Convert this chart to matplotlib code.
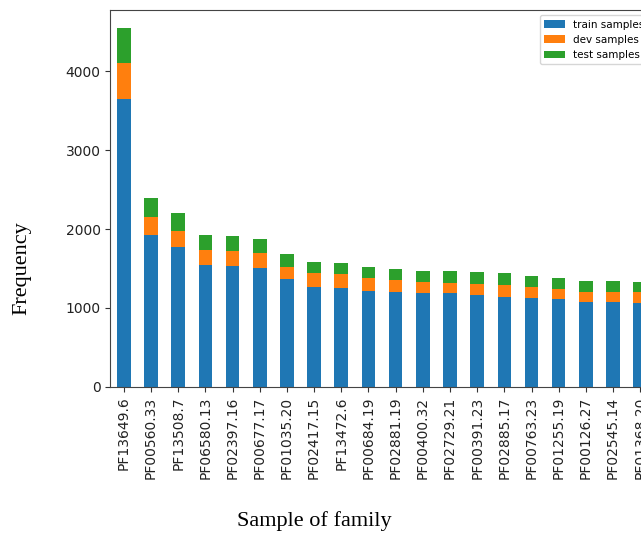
# Stacked bar chart: train/dev/test sample counts per Pfam family
import numpy as np
import pandas as pd
import matplotlib
matplotlib.use("Agg")
import matplotlib.pyplot as plt

# data
families = ["PF13649.6", "PF00560.33", "PF13508.7", "PF06580.13", "PF02397.16",
            "PF00677.17", "PF01035.20", "PF02417.15", "PF13472.6", "PF00684.19",
            "PF02881.19", "PF00400.32", "PF02729.21", "PF00391.23", "PF02885.17",
            "PF00763.23", "PF01255.19", "PF00126.27", "PF02545.14", "PF01368.20"]
train = [3646, 1924, 1772, 1544, 1532, 1506, 1367, 1270, 1257, 1219,
         1198, 1186, 1186, 1161, 1143, 1123, 1110, 1072, 1072, 1067]
dev = [455, 228, 203, 190, 190, 190, 152, 169, 169, 157,
       153, 147, 135, 139, 148, 139, 135, 135, 135, 131]
test = [443, 240, 228, 190, 189, 177, 165, 147, 148, 147,
        147, 139, 151, 152, 148, 139, 139, 131, 131, 135]

df = pd.DataFrame({"train samples": train, "dev samples": dev, "test samples": test},
                  index=families)

fig = plt.figure(figsize=(6.41, 5.33), dpi=100)
# axes runs past the right edge of the picture (the original is cropped)
ax = fig.add_axes([0.172, 0.274, 0.848, 0.707])
df.plot(kind="bar", stacked=True, ax=ax, width=0.5)

ax.set_ylim(0, 4772)
ax.set_yticks([0, 1000, 2000, 3000, 4000])
ax.tick_params(axis="both", labelsize=10, colors="#333333", labelcolor="#222222")
for s in ax.spines.values():
    s.set_color("#444444")
ax.legend(loc="upper right", fontsize=7.5)

# axis titles in a Times-like font
fig.text(0.034, 0.497, "Frequency", rotation=90, ha="center", va="center",
         family="Liberation Serif", fontsize=16)
fig.text(0.491, 0.023, "Sample of family", ha="center", va="center",
         family="Liberation Serif", fontsize=16)

fig.savefig("out.png", dpi=100)
